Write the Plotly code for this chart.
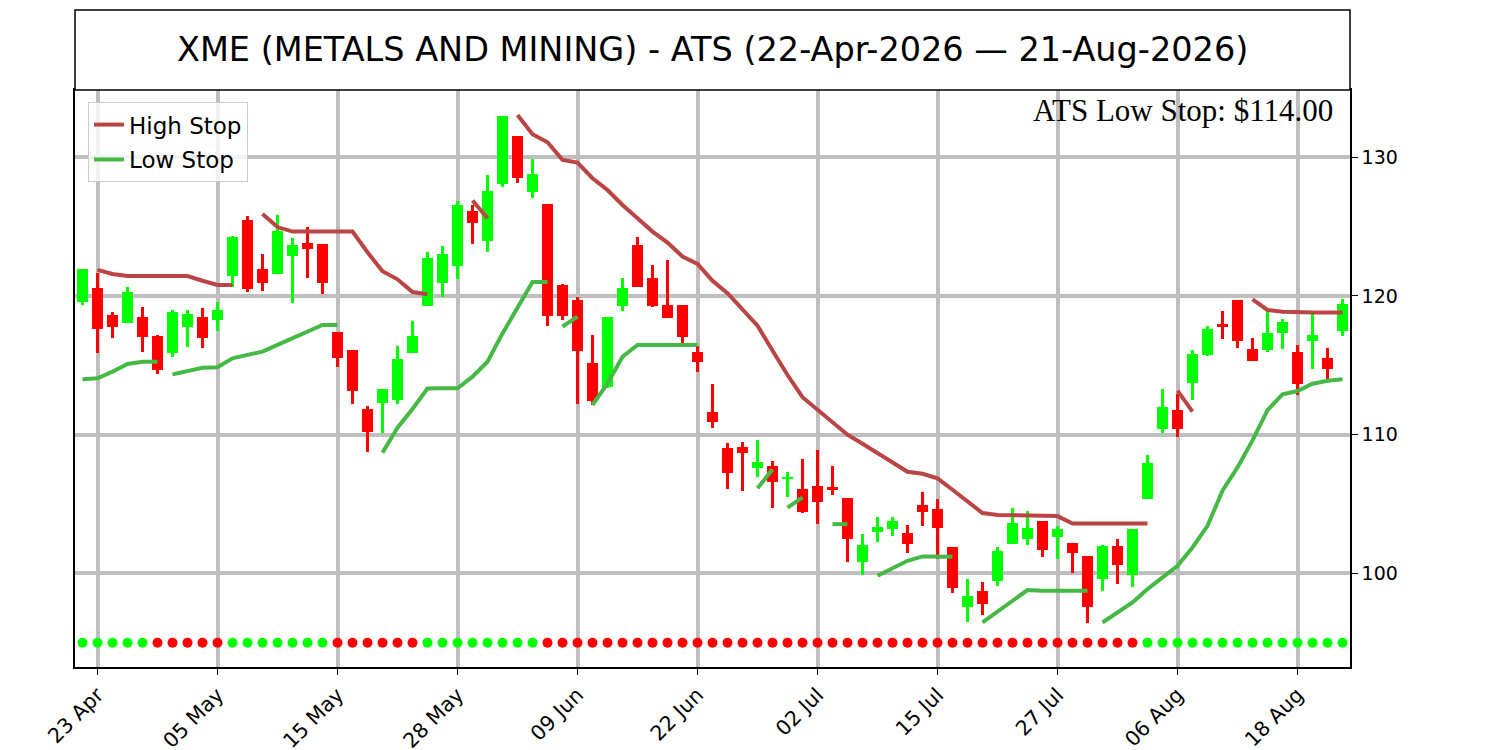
import plotly.graph_objects as go

# trading-day index 0..84 (22-Apr-2026 .. 21-Aug-2026)
OPEN = [
    119.59, 120.55, 118.63, 118.03, 118.51, 117.12, 115.87, 117.74, 118.46, 118.27,
    121.47, 125.48, 121.92, 121.59, 122.91, 123.80, 123.75, 117.38, 116.11, 111.85,
    112.26, 112.50, 115.87, 119.30, 120.96, 122.19, 126.13, 123.99, 128.05, 131.54,
    127.52, 126.61, 120.79, 119.71, 115.14, 113.46, 119.30, 123.68, 121.27, 119.35,
    119.35, 115.99, 111.61, 109.01, 109.08, 107.57, 107.76, 106.78, 106.06, 106.30,
    106.20, 105.41, 100.84, 102.96, 103.20, 102.88, 104.93, 104.61, 101.87, 97.55,
    98.75, 99.47, 102.09, 102.47, 103.77, 102.64, 102.16, 101.25, 99.59, 101.97,
    99.87, 105.34, 110.41, 111.78, 113.70, 115.74, 117.98, 119.71, 116.15, 116.13,
    117.31, 115.94, 116.73, 115.50, 117.50,
]
HIGH = [
    121.92, 121.63, 118.87, 120.62, 119.18, 117.20, 118.99, 118.99, 119.11, 119.59,
    124.35, 125.77, 123.03, 125.84, 124.16, 125.00, 123.75, 117.38, 116.11, 112.07,
    113.27, 116.39, 118.20, 123.15, 123.61, 126.85, 126.56, 128.73, 132.98, 131.54,
    129.88, 126.61, 120.87, 119.90, 117.19, 118.51, 121.27, 124.28, 122.24, 122.60,
    119.35, 116.39, 113.65, 109.37, 109.44, 109.61, 108.10, 107.28, 108.24, 108.90,
    107.74, 105.41, 102.83, 104.04, 104.04, 103.48, 105.84, 105.33, 101.87, 99.57,
    99.35, 101.87, 104.68, 104.49, 103.77, 103.41, 102.20, 101.25, 102.04, 102.47,
    103.19, 108.53, 113.29, 112.93, 116.10, 117.83, 118.92, 119.71, 116.94, 118.92,
    118.32, 116.47, 118.70, 116.22, 119.76,
]
LOW = [
    119.35, 115.91, 116.95, 118.03, 115.94, 114.35, 115.62, 116.30, 116.23, 117.50,
    120.62, 120.31, 120.38, 121.59, 119.47, 121.32, 120.14, 114.90, 112.19, 108.77,
    110.14, 112.19, 115.87, 119.30, 119.95, 121.23, 123.75, 123.20, 127.88, 128.17,
    127.09, 117.86, 118.27, 112.19, 112.14, 113.39, 118.94, 120.62, 119.23, 118.39,
    116.30, 114.54, 110.50, 106.08, 105.96, 106.92, 104.69, 105.53, 104.34, 103.55,
    105.65, 100.84, 99.87, 102.28, 102.72, 101.49, 103.43, 101.03, 98.62, 96.51,
    96.99, 99.11, 102.09, 102.04, 101.20, 101.03, 100.04, 96.44, 98.75, 99.20,
    99.03, 105.34, 110.09, 109.85, 112.50, 115.69, 116.90, 116.27, 115.31, 115.98,
    116.15, 112.86, 114.71, 113.89, 117.14,
]
CLOSE = [
    121.92, 117.64, 117.79, 120.26, 117.07, 114.66, 118.87, 118.70, 116.95, 118.99,
    124.28, 120.48, 120.96, 124.69, 123.68, 123.37, 120.96, 115.55, 113.17, 110.17,
    113.27, 115.46, 117.14, 122.72, 123.00, 126.56, 125.24, 127.57, 132.98, 128.53,
    128.80, 118.58, 118.58, 116.06, 112.45, 118.51, 120.55, 120.62, 119.28, 118.39,
    117.02, 115.26, 110.89, 107.21, 108.70, 108.05, 106.56, 106.97, 104.39, 105.12,
    106.01, 102.45, 102.04, 103.32, 103.80, 102.09, 104.40, 103.24, 98.98, 98.38,
    97.76, 101.63, 103.60, 103.24, 101.68, 103.17, 101.44, 97.59, 101.99, 100.64,
    103.19, 107.93, 111.97, 110.38, 115.79, 117.59, 117.79, 116.78, 115.31, 117.33,
    118.15, 113.63, 117.21, 114.71, 119.42,
]

# stop lines, stored as (first index, values) pieces
HIGH_STOP_SEGMENTS = [
    (1, [121.88, 121.59, 121.44, 121.44, 121.44, 121.44, 121.44, 121.10, 120.79, 120.79]),
    (12, [125.91, 124.97, 124.64, 124.64, 124.64, 124.64, 124.64, 123.15, 121.78, 121.20,
          120.28, 120.12]),
    (26, [126.88, 125.60]),
    (29, [133.05, 131.66, 131.08, 129.81, 129.62, 128.49, 127.64, 126.56, 125.60, 124.64,
          123.85, 122.84, 122.31, 121.10, 120.20, 119.06, 117.86, 116.07, 114.30, 112.70,
          111.80, 110.91, 110.00, 109.35, 108.65, 107.95, 107.33, 107.18, 106.85, 106.03,
          105.20, 104.35, 104.21, 104.18, 104.18, 104.18, 104.13, 103.60, 103.60, 103.60,
          103.60, 103.60, 103.60]),
    (73, [113.17, 111.66]),
    (78, [119.76, 118.99, 118.87, 118.80, 118.80, 118.80, 118.80]),
]
LOW_STOP_SEGMENTS = [
    (0, [113.99, 114.06, 114.54, 115.10, 115.26, 115.26]),
    (6, [114.35, 114.59, 114.83, 114.86, 115.50, 115.75, 115.99, 116.47, 116.95, 117.50,
         117.91, 117.91]),
    (20, [108.70, 110.50, 111.85, 113.33, 113.34, 113.34, 114.18, 115.26, 117.30, 119.20,
          121.00, 121.00]),
    (32, [117.79, 118.51]),
    (34, [112.14, 113.70, 115.62, 116.47, 116.47, 116.47, 116.47, 116.47]),
    (45, [106.13, 107.50]),
    (47, [104.74, 105.48]),
    (50, [103.55, 103.55]),
    (53, [99.83, 100.41, 100.91, 101.22, 101.20, 101.20]),
    (60, [96.46, 97.24, 98.03, 98.80, 98.75, 98.75, 98.75, 98.75]),
    (68, [96.46, 97.18, 97.90, 98.87, 99.71, 100.55, 101.87, 103.43, 105.96, 107.64,
          109.59, 111.77, 112.91, 113.15, 113.67, 113.89, 114.00]),
]

# signal dots along the bottom (1 = green, 0 = red)
DOT_SIGNAL = [
    1, 1, 1, 1, 1, 0, 0, 0, 0, 0, 1, 1, 1, 1, 1, 1, 1, 0, 0, 0,
    0, 0, 0, 1, 1, 1, 1, 1, 1, 1, 1, 0, 0, 0, 0, 0, 0, 0, 0, 0,
    0, 0, 0, 0, 0, 0, 0, 0, 0, 0, 0, 0, 0, 0, 0, 0, 0, 0, 0, 0,
    0, 0, 0, 0, 0, 0, 0, 0, 0, 0, 0, 1, 1, 1, 1, 1, 1, 1, 1, 1,
    1, 1, 1, 1, 1,
]
DOT_LEVEL = 95

TICK_POS = [1, 9, 17, 25, 33, 41, 49, 57, 65, 73, 81]
TICK_LABELS = ["23 Apr", "05 May", "15 May", "28 May", "09 Jun", "22 Jun",
               "02 Jul", "15 Jul", "27 Jul", "06 Aug", "18 Aug"]

TITLE = "XME (METALS AND MINING) - ATS (22-Apr-2026 \u2014 21-Aug-2026)"
LAST_LOW_STOP = 114.00

UP = "#00ff00"
DOWN = "#ff0000"
FONT = "DejaVu Sans"


def segments_to_xy(segments):
    xs, ys = [], []
    for start, values in segments:
        xs.extend(range(start, start + len(values)))
        ys.extend(values)
        xs.append(None)
        ys.append(None)
    return xs, ys


idx = list(range(len(OPEN)))
colors = [UP if c >= o else DOWN for o, c in zip(OPEN, CLOSE)]
body_base = [min(o, c) for o, c in zip(OPEN, CLOSE)]
body_height = [max(abs(c - o), 0.05) for o, c in zip(OPEN, CLOSE)]

fig = go.Figure()

hx, hy = segments_to_xy(HIGH_STOP_SEGMENTS)
fig.add_trace(go.Scatter(x=hx, y=hy, mode="lines", name="High Stop",
                         line=dict(color="#bb4444", width=4), legendgroup="h"))
lx, ly = segments_to_xy(LOW_STOP_SEGMENTS)
fig.add_trace(go.Scatter(x=lx, y=ly, mode="lines", name="Low Stop",
                         line=dict(color="#45b845", width=4), legendgroup="l"))

fig.add_trace(go.Bar(x=idx, y=[h - l for h, l in zip(HIGH, LOW)], base=LOW, width=0.2,
                     marker=dict(color=colors, line=dict(width=0)), showlegend=False))
fig.add_trace(go.Bar(x=idx, y=body_height, base=body_base, width=0.67,
                     marker=dict(color=colors, line=dict(width=0)), showlegend=False))

fig.add_trace(go.Scatter(x=idx, y=[DOT_LEVEL] * len(idx), mode="markers",
                         marker=dict(size=10, color=[UP if s else DOWN for s in DOT_SIGNAL]),
                         showlegend=False))

# the page adds an 8px body margin, so the margins are pulled in to compensate
plot_h = 750 - 82 - 91
fig.add_shape(type="rect", xref="paper", yref="paper", x0=0, x1=1, y0=1, y1=1 + 80 / plot_h,
              line=dict(color="black", width=1.5), fillcolor="white", layer="above")
fig.add_annotation(text=TITLE, xref="paper", yref="paper", x=0.5, y=1 + 40 / plot_h,
                   xanchor="center", yanchor="middle", showarrow=False,
                   font=dict(family=FONT, size=33.5, color="black"))
fig.add_annotation(text=f"ATS Low Stop: ${LAST_LOW_STOP:.2f}", xref="paper", yref="paper",
                   x=0.988, y=1 - 20 / plot_h, xanchor="right", yanchor="middle",
                   showarrow=False, font=dict(family="Liberation Serif", size=31, color="black"))

fig.update_layout(
    width=1500, height=750,
    margin=dict(l=67, r=158, t=82, b=91),
    paper_bgcolor="white", plot_bgcolor="white",
    barmode="overlay", bargap=0,
    font=dict(family=FONT, size=19, color="black"),
    legend=dict(x=0.0102, y=0.979, xanchor="left", yanchor="top",
                bgcolor="rgba(255,255,255,0.8)", bordercolor="#cccccc", borderwidth=1,
                font=dict(size=23), tracegroupgap=2, itemwidth=30),
)
fig.update_xaxes(range=[-0.5, 84.5], tickmode="array", tickvals=TICK_POS, ticktext=TICK_LABELS,
                 tickangle=-45, tickfont=dict(size=20.5), ticks="outside", ticklen=6,
                 tickcolor="black", automargin=False,
                 showgrid=True, gridcolor="#bfbfbf", gridwidth=3.5,
                 showline=True, linecolor="black", linewidth=1.5, mirror=True, zeroline=False)
fig.update_yaxes(range=[93.25, 134.85], side="right", tickvals=[100, 110, 120, 130],
                 ticks="outside", ticklen=6, tickcolor="black", automargin=False,
                 showgrid=True, gridcolor="#bfbfbf", gridwidth=3.5,
                 showline=True, linecolor="black", linewidth=1.5, mirror=True, zeroline=False)

fig.write_html("out.html")
